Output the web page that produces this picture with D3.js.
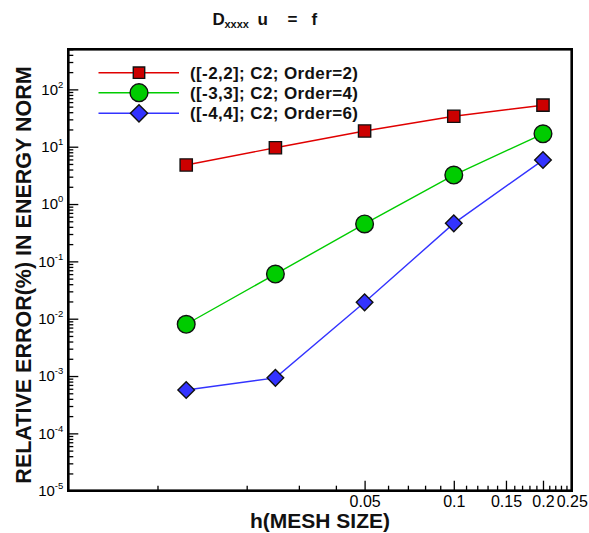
<!DOCTYPE html>
<html>
<head>
<meta charset="utf-8">
<script src="https://cdn.jsdelivr.net/npm/d3@7"></script>
<style>
html,body{margin:0;padding:0;background:#fff;}
svg{display:block;font-family:"Liberation Sans",Arial,Helvetica,sans-serif;}
</style>
</head>
<body>
<svg id="chart" width="589" height="533"></svg>
<script>
// ---- data ----
const hValues = [0.0125, 0.025, 0.05, 0.1, 0.2];
const order2 = [4.8, 9.6, 18.8, 34, 53];
const order4 = [0.008, 0.06, 0.45, 3.2, 16.8];
const order6 = [0.00057, 0.00093, 0.0193, 0.46, 5.85];
const seriesNames = ["([-2,2]; C2; Order=2)", "([-3,3]; C2; Order=4)", "([-4,4]; C2; Order=6)"];
const xMajorTicks = [0.05, 0.1, 0.15, 0.2, 0.25];
const xMajorLabels = ["0.05", "0.1", "0.15", "0.2", "0.25"];
const xMinorTicks = [0.01, 0.02, 0.03, 0.04, 0.06, 0.07, 0.08, 0.09,
  0.11, 0.12, 0.13, 0.14, 0.16, 0.17, 0.18, 0.19, 0.21, 0.22, 0.23, 0.24];
const yExponents = [-5, -4, -3, -2, -1, 0, 1, 2];
const xDomain = [0.005, 0.25];
const yDomain = [1e-5, 500];
const titleMain = "D", titleSub = "xxxx", titleRest = ["u", "=", "f"];
const xTitle = "h(MESH SIZE)";
const yTitle = "RELATIVE ERROR(%) IN ENERGY NORM";

const series = [
  {name: seriesNames[0], values: order2, color: "#e00000", fill: "#cc0000", shape: "square"},
  {name: seriesNames[1], values: order4, color: "#00cc00", fill: "#00cc00", shape: "circle"},
  {name: seriesNames[2], values: order6, color: "#3333ff", fill: "#3333ff", shape: "diamond"}
];

// ---- layout ----
const L = 68.3, R = 571.7, T = 49.3, B = 490.7;
const svg = d3.select("#chart");
const x = d3.scaleLog().domain(xDomain).range([L, R]);
const y = d3.scaleLog().domain(yDomain).range([B, T]);

const yMinor = [];
yExponents.forEach(e => { for (let k = 2; k <= 9; k++) { const v = k * Math.pow(10, e); if (v <= yDomain[1]) yMinor.push(v); } });

// ---- axes ----
const gxMinor = svg.append("g").attr("transform", `translate(0,${B})`)
  .call(d3.axisBottom(x).tickValues(xMinorTicks).tickSize(-5).tickFormat(""));
const gxMajor = svg.append("g").attr("transform", `translate(0,${B})`)
  .call(d3.axisBottom(x).tickValues(xMajorTicks).tickSize(-10).tickPadding(5)
    .tickFormat((d, i) => xMajorLabels[i]));
const gyMinor = svg.append("g").attr("transform", `translate(${L},0)`)
  .call(d3.axisLeft(y).tickValues(yMinor).tickSize(-5).tickFormat(""));
const gyMajor = svg.append("g").attr("transform", `translate(${L},0)`)
  .call(d3.axisLeft(y).tickValues(yExponents.map(e => Math.pow(10, e))).tickSize(-10)
    .tickFormat(""));

[gxMinor, gxMajor, gyMinor, gyMajor].forEach(g => {
  g.select(".domain").remove();
  g.selectAll(".tick line").attr("stroke", "#000").attr("stroke-width", 1.3);
});
gxMajor.selectAll(".tick text").attr("font-size", 16).attr("fill", "#000")
  .attr("font-family", "'Liberation Sans',Arial,sans-serif");

gyMajor.selectAll(".tick").each(function(d, i) {
  const t = d3.select(this).append("text")
    .attr("x", -5).attr("dy", "0.32em").attr("text-anchor", "end")
    .attr("fill", "#000").attr("font-size", 15);
  t.append("tspan").text("10");
  t.append("tspan").attr("font-size", 9.5).attr("dy", "-0.75em").text(String(yExponents[i]));
});

// ---- frame ----
svg.append("rect").attr("x", L).attr("y", T).attr("width", R - L).attr("height", B - T)
  .attr("fill", "none").attr("stroke", "#000").attr("stroke-width", 2.6);

// ---- series ----
const line = d3.line().x((d, i) => x(hValues[i])).y(d => y(d));
function markerPath(shape) {
  if (shape === "square") return d3.symbol(d3.symbolSquare, 150)();
  if (shape === "circle") return d3.symbol(d3.symbolCircle, 245)();
  return d3.symbol(d3.symbolSquare, 138)();
}
series.forEach(s => {
  svg.append("path").datum(s.values).attr("d", line)
    .attr("fill", "none").attr("stroke", s.color).attr("stroke-width", 1.4);
});
series.forEach(s => {
  svg.append("g").selectAll("path").data(s.values).join("path")
    .attr("d", markerPath(s.shape))
    .attr("transform", (d, i) => `translate(${x(hValues[i])},${y(d)})` + (s.shape === "diamond" ? " rotate(45)" : ""))
    .attr("fill", s.fill).attr("stroke", "#111").attr("stroke-width", 1.4);
});

// ---- legend ----
const legY = [72.7, 92.7, 113.3];
const lg = svg.append("g");
series.forEach((s, i) => {
  lg.append("line").attr("x1", 98.5).attr("x2", 179).attr("y1", legY[i]).attr("y2", legY[i])
    .attr("stroke", s.color).attr("stroke-width", 1.4);
  lg.append("path").attr("d", s.shape === "square" ? d3.symbol(d3.symbolSquare, 130)() :
      s.shape === "circle" ? d3.symbol(d3.symbolCircle, 250)() : d3.symbol(d3.symbolSquare, 150)())
    .attr("transform", `translate(139,${legY[i]})` + (s.shape === "diamond" ? " rotate(45)" : ""))
    .attr("fill", s.fill).attr("stroke", "#111").attr("stroke-width", 1.4);
  lg.append("text").attr("x", 190).attr("y", legY[i]).attr("dy", "0.36em")
    .attr("font-size", 17).attr("font-weight", "bold").attr("fill", "#111")
    .attr("textLength", 168).attr("lengthAdjust", "spacing").text(s.name);
});

// ---- titles ----
const tg = svg.append("g").attr("font-weight", "bold").attr("fill", "#111");
tg.append("text").attr("x", 212.5).attr("y", 25).attr("font-size", 17).text(titleMain);
tg.append("text").attr("x", 224.5).attr("y", 27.5).attr("font-size", 11).text(titleSub);
tg.append("text").attr("x", 257.5).attr("y", 25).attr("font-size", 17).text(titleRest[0]);
tg.append("text").attr("x", 287.5).attr("y", 25).attr("font-size", 17).text(titleRest[1]);
tg.append("text").attr("x", 311.5).attr("y", 25).attr("font-size", 17).text(titleRest[2]);

svg.append("text").attr("x", (L + R) / 2).attr("y", 528).attr("text-anchor", "middle")
  .attr("font-size", 21).attr("font-weight", "bold").attr("fill", "#111").text(xTitle);
svg.append("text").attr("transform", `translate(30.5,${(T + B) / 2 + 5}) rotate(-90)`)
  .attr("text-anchor", "middle").attr("font-size", 21.5).attr("font-weight", "bold")
  .attr("fill", "#111").text(yTitle);
</script>
</body>
</html>
